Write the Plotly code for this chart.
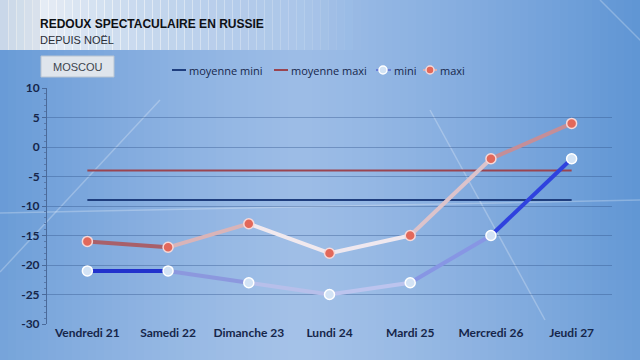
import plotly.graph_objects as go

# ---- data ----
categories = ["Vendredi 21", "Samedi 22", "Dimanche 23", "Lundi 24", "Mardi 25", "Mercredi 26", "Jeudi 27"]
mini = [-21, -21, -23, -25, -23, -15, -2]
maxi = [-16, -17, -13, -18, -15, -2, 4]
moyenne_mini = -9
moyenne_maxi = -4
y_ticks = [10, 5, 0, -5, -10, -15, -20, -25, -30]

title = "REDOUX SPECTACULAIRE EN RUSSIE"
subtitle = "DEPUIS NOËL"
city = "MOSCOU"

# ---- styles ----
W, H = 640, 360
L, R, T, B = 47, 28, 88, 36
PW, PH = W - L - R, H - T - B
FONT = "Lato, Liberation Sans Narrow, sans-serif"
NAVY = "#16264a"

mini_seg_colors = ["#2232cc", "#8c98de", "#b7bfea", "#bcc4ee", "#8796e4", "#2f42de"]
maxi_seg_colors = ["#a8606a", "#d9b4b8", "#f1e9ee", "#efe8ef", "#dcc3cb", "#c48e98"]


def px2x(px):
    return (px - L) / PW


def py2y(py):
    return 1 - (py - T) / PH


def mix(c1, c2, t):
    a = [int(c1[i:i + 2], 16) for i in (1, 3, 5)]
    b = [int(c2[i:i + 2], 16) for i in (1, 3, 5)]
    return "#%02x%02x%02x" % tuple(round(a[k] + (b[k] - a[k]) * t) for k in range(3))


shapes = []
# background gradient (columns)
step = 8
for px in range(0, W, step):
    c = px + step / 2
    d = abs(c - 300) / 340
    col = mix("#9cbce6", "#5f95d4", min(1, d ** 1.3))
    shapes.append(dict(type="rect", xref="paper", yref="paper",
                       x0=px2x(px), x1=px2x(px + step + 1), y0=py2y(H), y1=py2y(0),
                       fillcolor=col, line=dict(width=0), layer="below"))
# bottom lightening band
for i, py in enumerate(range(200, H, 10)):
    shapes.append(dict(type="rect", xref="paper", yref="paper",
                       x0=px2x(0), x1=px2x(W), y0=py2y(py + 10), y1=py2y(py),
                       fillcolor="white", opacity=0.012 * (i + 1) * 0.5,
                       line=dict(width=0), layer="below"))
# header band
for px in range(0, 380, step):
    c = px + step / 2
    if c < 40:
        a = 0.75 + 0.15 * c / 40
        col = "#e6eaee"
    else:
        f = max(0.0, 1 - (c - 40) / 330)
        a = 0.9 * f ** 1.1
        col = "#f4f6f8"
    if a <= 0.01:
        continue
    shapes.append(dict(type="rect", xref="paper", yref="paper",
                       x0=px2x(px), x1=px2x(px + step + 1), y0=py2y(50), y1=py2y(0),
                       fillcolor=col, opacity=a, line=dict(width=0), layer="below"))
# faint decorative streaks
for (xa, ya, xb, yb) in [(0, 272, 160, 100), (430, 110, 545, 320), (0, 213, 640, 200), (600, 0, 660, 60)]:
    shapes.append(dict(type="line", xref="paper", yref="paper",
                       x0=px2x(xa), y0=py2y(ya), x1=px2x(xb), y1=py2y(yb),
                       line=dict(color="rgba(255,255,255,0.25)", width=1.5), layer="below"))
# city box
shapes.append(dict(type="rect", xref="paper", yref="paper",
                   x0=px2x(41), x1=px2x(114), y0=py2y(77), y1=py2y(56),
                   fillcolor="#dfe5ec", line=dict(color="#b8c4d2", width=1), layer="above"))

# manual legend
legend_y = py2y(70)
shapes.append(dict(type="line", xref="paper", yref="paper", x0=px2x(172), x1=px2x(186),
                   y0=legend_y, y1=legend_y, line=dict(color="#1f3e7e", width=2)))
shapes.append(dict(type="line", xref="paper", yref="paper", x0=px2x(274), x1=px2x(288),
                   y0=legend_y, y1=legend_y, line=dict(color="#9a4450", width=2)))
shapes.append(dict(type="line", xref="paper", yref="paper", x0=px2x(376), x1=px2x(391),
                   y0=legend_y, y1=legend_y, line=dict(color="#6a7fd8", width=2)))
shapes.append(dict(type="line", xref="paper", yref="paper", x0=px2x(423), x1=px2x(437),
                   y0=legend_y, y1=legend_y, line=dict(color="#d8b0b4", width=2)))
for cx, fill, edge in [(383, "#d3e3f5", "#ffffff"), (430, "#e2685a", "#f6d8d8")]:
    shapes.append(dict(type="circle", xref="paper", yref="paper",
                       xsizemode="pixel", ysizemode="pixel",
                       xanchor=px2x(cx), yanchor=legend_y, x0=-4, x1=4, y0=-4, y1=4,
                       fillcolor=fill, line=dict(color=edge, width=1.5)))

annotations = [
    dict(text="<b>" + title + "</b>", x=px2x(39), y=py2y(24.5), xref="paper", yref="paper",
         xanchor="left", yanchor="middle", showarrow=False, borderpad=0,
         font=dict(family="Liberation Sans, Arial, sans-serif", size=12, color="#0e1014")),
    dict(text=subtitle, x=px2x(39), y=py2y(39.5), xref="paper", yref="paper",
         xanchor="left", yanchor="middle", showarrow=False, borderpad=0,
         font=dict(family="Liberation Sans, Arial, sans-serif", size=11, color="#2a2e36")),
    dict(text=city, x=px2x(78), y=py2y(67), xref="paper", yref="paper",
         xanchor="center", yanchor="middle", showarrow=False,
         font=dict(family="Liberation Sans, Arial, sans-serif", size=11, color="#3c444e")),
]
for label, px in [("moyenne mini", 187), ("moyenne maxi", 289), ("mini", 392), ("maxi", 438)]:
    annotations.append(dict(text=label, x=px2x(px), y=legend_y, xref="paper", yref="paper",
                            xanchor="left", yanchor="middle", showarrow=False,
                            font=dict(family="Open Sans, Liberation Sans, sans-serif", size=11, color=NAVY)))

fig = go.Figure()

# average lines
fig.add_trace(go.Scatter(x=[categories[0], categories[-1]], y=[moyenne_mini, moyenne_mini],
                         mode="lines", line=dict(color="#1f3e7e", width=2), name="moyenne mini",
                         hoverinfo="skip"))
fig.add_trace(go.Scatter(x=[categories[0], categories[-1]], y=[moyenne_maxi, moyenne_maxi],
                         mode="lines", line=dict(color="#9a4450", width=2), name="moyenne maxi",
                         hoverinfo="skip"))

# gradient-like segments
for i in range(len(categories) - 1):
    fig.add_trace(go.Scatter(x=categories[i:i + 2], y=maxi[i:i + 2], mode="lines",
                             line=dict(color=maxi_seg_colors[i], width=4), hoverinfo="skip"))
    fig.add_trace(go.Scatter(x=categories[i:i + 2], y=mini[i:i + 2], mode="lines",
                             line=dict(color=mini_seg_colors[i], width=4), hoverinfo="skip"))

fig.add_trace(go.Scatter(x=categories, y=mini, mode="markers", name="mini",
                         marker=dict(size=10, color="#d3e3f5", line=dict(color="#ffffff", width=1.5))))
fig.add_trace(go.Scatter(x=categories, y=maxi, mode="markers", name="maxi",
                         marker=dict(size=10, color="#e2685a", line=dict(color="#f6d8d8", width=1.5))))

fig.update_layout(
    width=W, height=H,
    margin=dict(l=L, r=R, t=T, b=B),
    paper_bgcolor="#7aa6dc",
    plot_bgcolor="rgba(0,0,0,0)",
    showlegend=False,
    shapes=shapes,
    annotations=annotations,
    xaxis=dict(type="category", categoryorder="array", categoryarray=categories,
               range=[-0.5, len(categories) - 0.5], showgrid=False,
               zeroline=False, showline=False, ticks="",
               tickfont=dict(family=FONT, size=12, color=NAVY, weight="bold"), fixedrange=True),
    yaxis=dict(range=[-30, 10], tickvals=y_ticks, ticktext=[str(v) for v in y_ticks],
               showgrid=True, gridcolor="rgba(50,85,140,0.4)", gridwidth=1,
               zeroline=False, showline=True, linecolor="#4a6a9a", linewidth=1,
               ticks="outside", ticklen=4, tickcolor="#4a6a9a",
               minor=dict(dtick=1, ticks="outside", ticklen=2, tickcolor="#5a7aaa", showgrid=False),
               tickfont=dict(family=FONT, size=12, color=NAVY, weight="bold"), fixedrange=True),
)

fig.write_html("out.html", config={"displayModeBar": False},
               post_script="document.body.style.margin='0';document.body.style.overflow='hidden';")
